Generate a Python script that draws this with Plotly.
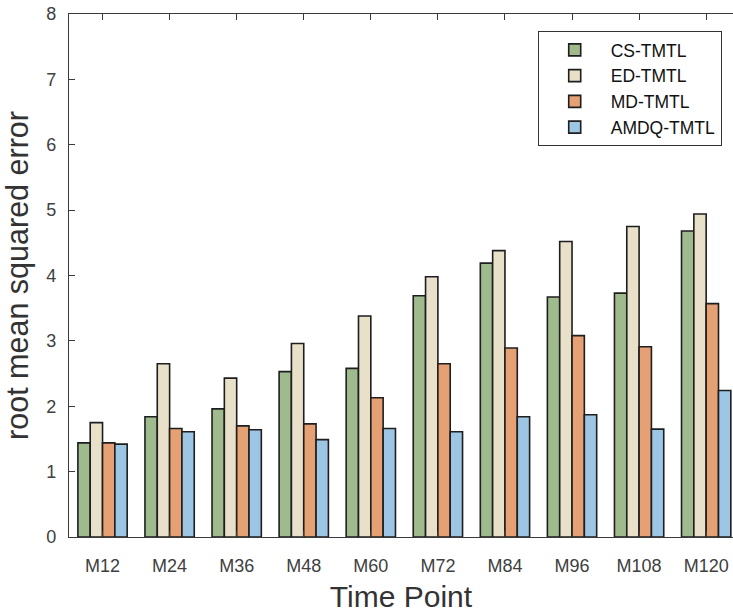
import plotly.graph_objects as go

categories = ["M12", "M24", "M36", "M48", "M60", "M72", "M84", "M96", "M108", "M120"]
cs_tmtl = [1.44, 1.84, 1.96, 2.53, 2.58, 3.69, 4.19, 3.67, 3.73, 4.68]
ed_tmtl = [1.75, 2.65, 2.43, 2.96, 3.38, 3.98, 4.38, 4.52, 4.75, 4.94]
md_tmtl = [1.44, 1.66, 1.70, 1.73, 2.13, 2.65, 2.89, 3.08, 2.91, 3.57]
amdq_tmtl = [1.42, 1.61, 1.64, 1.49, 1.66, 1.61, 1.84, 1.87, 1.65, 2.24]

series_names = ["CS-TMTL", "ED-TMTL", "MD-TMTL", "AMDQ-TMTL"]
series_values = [cs_tmtl, ed_tmtl, md_tmtl, amdq_tmtl]
colors = ["#9fba8d", "#e8e0c8", "#e5a074", "#9dc6e4"]

fig = go.Figure()
for name, vals, col in zip(series_names, series_values, colors):
    fig.add_trace(go.Bar(
        x=categories, y=vals, name=name,
        marker=dict(color=col, line=dict(color="#1e1e1e", width=1.6)),
    ))

axis_col = "#3a3a3a"
font_family = "Liberation Sans, Arial, sans-serif"

fig.update_layout(
    width=733, height=614,
    margin=dict(l=69, r=0, t=14, b=77),
    paper_bgcolor="white", plot_bgcolor="white",
    barmode="group", bargap=0.265, bargroupgap=0,
    font=dict(family=font_family, color="#404040"),
    showlegend=True,
    legend=dict(
        x=0.983, y=0.9675, xanchor="right", yanchor="top",
        bgcolor="white", bordercolor="#333333", borderwidth=1,
        font=dict(size=17.5, color="#111111", family=font_family),
        itemwidth=62, tracegroupgap=0,
    ),
    xaxis=dict(
        range=[-0.5, 9.4], showline=True, linecolor=axis_col, linewidth=1.3,
        mirror="ticks", ticks="inside", ticklen=6, tickcolor=axis_col,
        tickfont=dict(size=18, color="#404040"), ticklabelstandoff=12,
        showgrid=False, zeroline=False,
        title=dict(text="Time Point", font=dict(size=30, color="#333333"), standoff=11),
    ),
    yaxis=dict(
        range=[0, 8], dtick=1, showline=True, linecolor=axis_col, linewidth=1.3,
        mirror=False, ticks="inside", ticklen=6, tickcolor=axis_col,
        tickfont=dict(size=18, color="#404040"), ticklabelstandoff=8,
        showgrid=False, zeroline=False,
        title=dict(text="root mean squared error", font=dict(size=30.5, color="#333333"), standoff=9),
    ),
)

fig.write_html("out.html")
